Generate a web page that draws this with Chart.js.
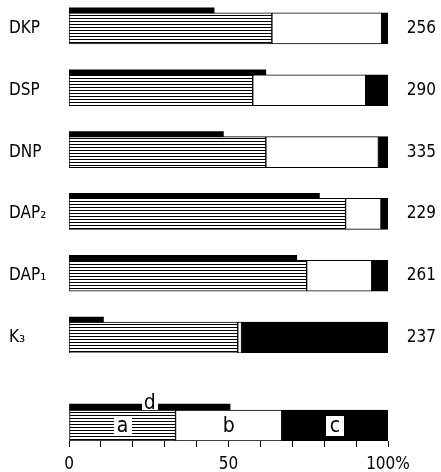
<!DOCTYPE html>
<html>
<head>
<meta charset="utf-8">
<script src="https://cdn.jsdelivr.net/npm/chart.js@4/dist/chart.umd.min.js"></script>
<style>
  html,body{margin:0;padding:0;background:#fff;}
  body{width:441px;height:472px;position:relative;overflow:hidden;}
  #w1{position:absolute;left:0;top:-18px;width:441px;height:371px;}
  #w2{position:absolute;left:0;top:379px;width:441px;height:93px;}
</style>
</head>
<body>
<div id="w1"><canvas id="c1"></canvas></div>
<div id="w2"><canvas id="c2"></canvas></div>
<script>
// ---- data ----
const categories = ['DKP', 'DSP', 'DNP', 'DAP\u2082', 'DAP\u2081', 'K\u2083'];
const totals     = ['256', '290', '335', '229', '261', '237'];
const seriesA    = [63.6, 57.6, 61.7, 86.7, 74.5, 52.9];   // hatched
const seriesB    = [34.4, 35.4, 35.3, 11.1, 20.4, 1.2];    // white
const seriesC    = [2.0, 7.0, 3.0, 2.2, 5.1, 45.9];        // black
const seriesD    = [45.5, 61.7, 48.4, 78.5, 71.4, 10.8];   // thin bar on top

const keyA = [33.4], keyB = [33.3], keyC = [33.3], keyD = [50.5];
const keyLetters = ['d', 'a', 'b', 'c'];
const tickValues = [0, 50, 100];
const tickLabels = ['0', '50', '100%'];

// ---- styling ----
const FONT = "'DejaVu Sans Condensed', 'DejaVu Sans', sans-serif";
function hatch() {
  const c = document.createElement('canvas');
  c.width = 4; c.height = 3;
  const g = c.getContext('2d');
  g.fillStyle = '#fff'; g.fillRect(0, 0, 4, 3);
  g.fillStyle = '#000'; g.fillRect(0, 0, 4, 1);
  return g.createPattern(c, 'repeat');
}
const pat = hatch();

function mainSets(a, b, c, d, thinD) {
  return [
    { data: d, stack: 'd', backgroundColor: '#000', borderWidth: 0, barThickness: thinD },
    { data: a, stack: 'm', backgroundColor: pat, borderColor: '#000', borderWidth: 1, borderSkipped: false, barThickness: 31 },
    { data: b, stack: 'm', backgroundColor: '#fff', borderColor: '#000', borderWidth: 1, borderSkipped: false, barThickness: 31 },
    { data: c, stack: 'm', backgroundColor: '#000', borderColor: '#000', borderWidth: 1, borderSkipped: false, barThickness: 31 }
  ];
}
function noPad(s) { s.paddingTop = 0; s.paddingBottom = 0; }

new Chart(document.getElementById('c1'), {
  type: 'bar',
  data: { labels: categories, datasets: mainSets(seriesA, seriesB, seriesC, seriesD, 5) },
  options: {
    indexAxis: 'y',
    responsive: true, maintainAspectRatio: false, animation: false,
    layout: { padding: { left: 9, right: 5, top: 0, bottom: 0 } },
    plugins: { legend: { display: false }, tooltip: { enabled: false } },
    scales: {
      x: { min: 0, max: 100, stacked: true, display: false },
      y: {
        stacked: true, position: 'left',
        grid: { display: false, drawTicks: false }, border: { display: false },
        ticks: { crossAlign: 'far', padding: 0, labelOffset: 15.5, color: '#000', font: { family: FONT, size: 17 } },
        afterFit(s) { s.width = 60; noPad(s); }
      },
      y2: {
        type: 'category', position: 'right', labels: totals, offset: true,
        grid: { display: false, drawTicks: false }, border: { display: false },
        ticks: { crossAlign: 'far', padding: 0, labelOffset: 15.5, color: '#000', font: { family: FONT, size: 17 } },
        afterFit(s) { s.width = 48; noPad(s); }
      }
    }
  }
});

const keyPlugin = {
  id: 'keys',
  afterDatasetsDraw(chart) {
    const ctx = chart.ctx;
    ctx.save();
    ctx.font = '21px ' + FONT;
    ctx.textAlign = 'center';
    ctx.textBaseline = 'middle';
    chart.data.datasets.forEach((ds, i) => {
      const el = chart.getDatasetMeta(i).data[0];
      const p = el.getProps(['x', 'y', 'base'], true);
      const cx = (p.x + p.base) / 2;
      const letter = keyLetters[i];
      let cy = p.y, w = 18, h = 20;
      if (letter === 'd') { cy = p.y - 4; w = 16; h = 14; }
      if (letter !== 'b') {
        ctx.fillStyle = '#fff';
        ctx.fillRect(Math.round(cx - w / 2), Math.round(cy - h / 2), w, h);
      }
      ctx.fillStyle = '#000';
      ctx.fillText(letter, cx, cy + 1);
    });
    ctx.restore();
  }
};

new Chart(document.getElementById('c2'), {
  type: 'bar',
  data: { labels: [''], datasets: mainSets(keyA, keyB, keyC, keyD, 6) },
  options: {
    indexAxis: 'y',
    responsive: true, maintainAspectRatio: false, animation: false,
    layout: { padding: { left: 69, right: 53, top: 0, bottom: 0 } },
    plugins: { legend: { display: false }, tooltip: { enabled: false } },
    scales: {
      x: {
        min: 0, max: 100, stacked: true, position: 'bottom',
        grid: { drawOnChartArea: false, drawTicks: true, tickLength: 6, color: '#000', lineWidth: 1 },
        border: { display: false },
        ticks: {
          stepSize: 10, autoSkip: false, maxRotation: 0, padding: 7, color: '#000',
          font: { family: FONT, size: 17 },
          callback(v) { const k = tickValues.indexOf(v); return k >= 0 ? tickLabels[k] : ''; }
        },
        afterFit(s) { s.height = 31; }
      },
      y: { stacked: true, display: false }
    }
  },
  plugins: [keyPlugin]
});
</script>
</body>
</html>
